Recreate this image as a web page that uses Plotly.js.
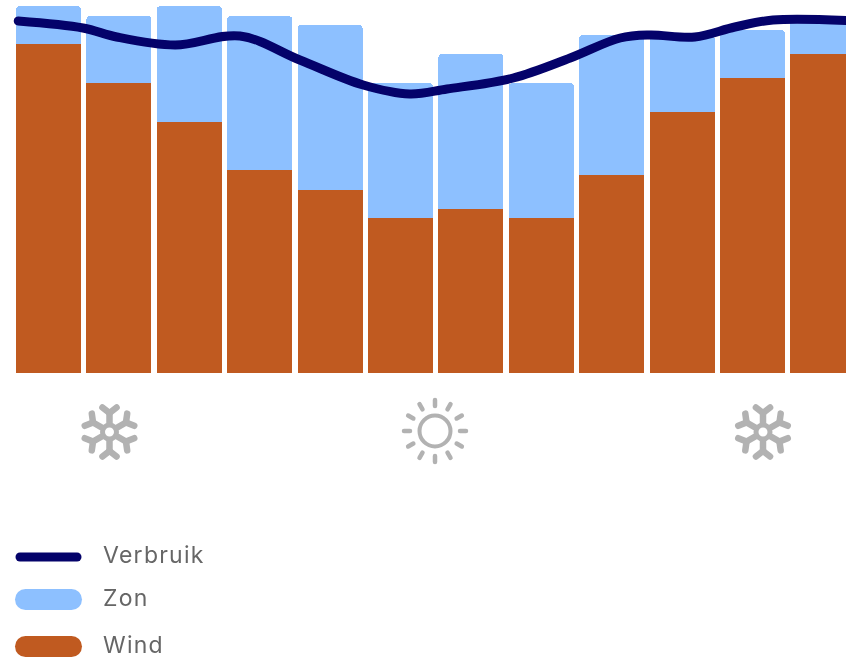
<!DOCTYPE html>
<html><head><meta charset="utf-8">
<script src="https://cdn.plot.ly/plotly-3.0.1.min.js"></script>
<style>
html,body{margin:0;padding:0;background:#fff;overflow:hidden}
#chart{width:846px;height:658px;filter:blur(0.6px)}
.shapelayer path{stroke-linecap:round;stroke-linejoin:round}
.js-line{stroke-linecap:round}
.annotation-text{letter-spacing:1.25px}
</style></head><body><div id="chart"></div>
<script>
var months = ['jan','feb','mrt','apr','mei','jun','jul','aug','sep','okt','nov','dec'];
var wind = [329,290,251,203,183,155,164,155,198,261,295,319];
var zon  = [38,67,116,154,165,135,155,135,140,77,48,34];
var verbruikX = [-0.43,0.49,0.97,1.80,2.72,3.57,4.47,5.13,5.66,6.60,7.41,8.12,8.54,9.18,9.75,10.29,11.33];
var verbruikY = [352,345,336,328,337,313,288,279,284,295,315,335,338,336,346,353,352.5];
var legendLabels = ['Verbruik','Zon','Wind'];
var colWind='#c05a20', colZon='#8dc0ff', colLine='#04026a', colIcon='#b2b2b2';

function X(p){return p/846}
function Y(p){return 1-p/658}
function seg(x0,y0,x1,y1,w,c){return {type:'line',xref:'paper',yref:'paper',x0:X(x0),y0:Y(y0),x1:X(x1),y1:Y(y1),line:{color:c,width:w}}}
function circ(cx,cy,r,w,c){return {type:'circle',xref:'paper',yref:'paper',x0:X(cx-r),x1:X(cx+r),y0:Y(cy-r),y1:Y(cy+r),line:{color:c,width:w},fillcolor:'rgba(0,0,0,0)'}}
function snow(cx,cy){
  var out=[circ(cx,cy,7,5,colIcon)];
  for(var k=0;k<6;k++){
    var a=k*Math.PI/3, dx=Math.sin(a), dy=-Math.cos(a);
    out.push(seg(cx+9*dx,cy+9*dy,cx+19*dx,cy+19*dy,6.5,colIcon));
    [-1,1].forEach(function(s){
      var b=a+s*0.28;
      out.push(seg(cx+19*dx,cy+19*dy,cx+25.5*Math.sin(b),cy-25.5*Math.cos(b),6.5,colIcon));
    });
  }
  return out;
}
function sun(cx,cy){
  var out=[circ(cx,cy,15.5,4,colIcon)];
  for(var k=0;k<12;k++){
    var a=k*Math.PI/6, dx=Math.sin(a), dy=-Math.cos(a);
    out.push(seg(cx+25*dx,cy+25*dy,cx+31*dx,cy+31*dy,4.5,colIcon));
  }
  return out;
}
var shapes=[].concat(snow(109.5,432),sun(435,431),snow(763,432),
  [seg(20,557,77,557,9,colLine),seg(25.5,599.5,71.5,599.5,21,colZon),seg(25.5,646.5,71.5,646.5,21,colWind)]);
var annotations=legendLabels.map(function(t,i){
  return {text:t,xref:'paper',yref:'paper',x:X(102),y:Y([555,598,645][i]),xanchor:'left',yanchor:'middle',showarrow:false,
    height:24,borderpad:0,
    font:{family:'Inter, sans-serif',size:23,color:'#666666'}};
});
var idx=months.map(function(_,i){return i});
var data=[
 {type:'bar',name:'Wind',x:idx,y:wind,marker:{color:colWind}},
 {type:'bar',name:'Zon',x:idx,y:zon,marker:{color:colZon}},
 {type:'scatter',mode:'lines',name:'Verbruik',x:verbruikX,y:verbruikY,line:{color:colLine,width:9,shape:'spline',smoothing:1}}
];
var layout={width:846,height:658,margin:{l:0,r:0,t:0,b:0},paper_bgcolor:'#fff',plot_bgcolor:'#fff',
 showlegend:false,barmode:'stack',bargap:0.075,barcornerradius:4,
 xaxis:{range:[-0.689,11.328],visible:false,fixedrange:true},
 yaxis:{range:[-285,373],visible:false,fixedrange:true},
 shapes:shapes,annotations:annotations};
Plotly.newPlot('chart',data,layout,{displayModeBar:false,staticPlot:true});
</script></body></html>
